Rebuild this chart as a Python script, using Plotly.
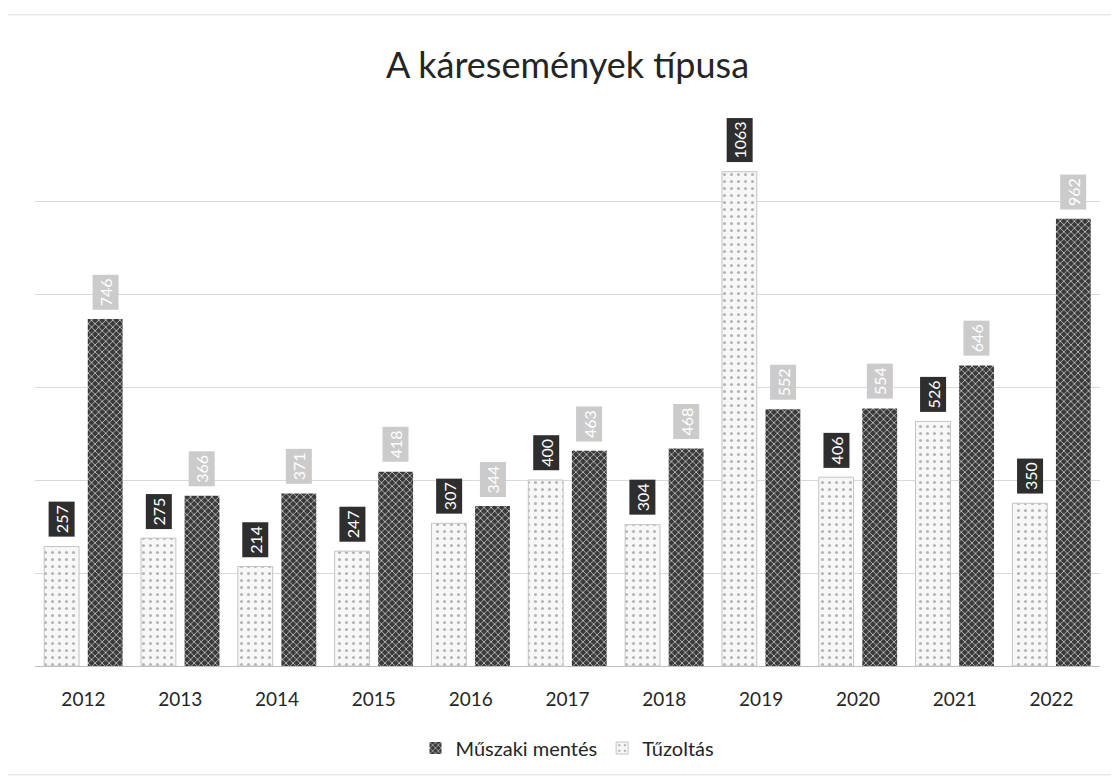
import plotly.graph_objects as go

years = ["2012", "2013", "2014", "2015", "2016", "2017", "2018", "2019", "2020", "2021", "2022"]
tuzoltas = [257, 275, 214, 247, 307, 400, 304, 1063, 406, 526, 350]
muszaki = [746, 366, 371, 418, 344, 463, 468, 552, 554, 646, 962]

title_text = "A káresemények típusa"
FONT = "Lato, 'Open Sans', sans-serif"

W, H = 1119, 781
ML, MR, MT, MB = 27, 27, 100, 123
BARGAP, GROUPGAP = 0.10, 0.20

idx = list(range(len(years)))
cat_px = (W - ML - MR) / len(years)
slot_px = (1 - BARGAP) * cat_px / 2
shift = slot_px / 2

fig = go.Figure()
fig.add_trace(go.Bar(
    x=idx, y=tuzoltas, name="Tűzoltás",
    marker=dict(color="#f6f6f6",
                line=dict(color="#c4c4c4", width=1),
                pattern=dict(shape=".", fgcolor="#b4b4b4", bgcolor="#f7f7f7",
                             size=7, solidity=0.15, fillmode="replace")),
))
fig.add_trace(go.Bar(
    x=idx, y=muszaki, name="Műszaki mentés",
    marker=dict(color="#3c3c3c",
                line=dict(color="#3c3c3c", width=0),
                pattern=dict(shape="x", fgcolor="#e6e6e6", bgcolor="#3a3a3a",
                             size=5, solidity=0.25, fillmode="replace")),
))

annotations = []
for i, v in zip(idx, tuzoltas):
    annotations.append(dict(
        x=i, y=v, xref="x", yref="y", text=str(v), showarrow=False,
        textangle=-90, xshift=-shift, yshift=9, yanchor="bottom", xanchor="center",
        bgcolor="#2e2e2e", font=dict(color="white", size=16, family=FONT),
        borderpad=3,
    ))
for i, v in zip(idx, muszaki):
    annotations.append(dict(
        x=i, y=v, xref="x", yref="y", text=str(v), showarrow=False,
        textangle=-90, xshift=shift, yshift=9, yanchor="bottom", xanchor="center",
        bgcolor="#cbcbcb", font=dict(color="white", size=16, family=FONT),
        borderpad=3,
    ))

fig.update_layout(
    width=W, height=H,
    paper_bgcolor="white", plot_bgcolor="white",
    title=dict(text=title_text, x=0.5, xanchor="center", y=0.927, yanchor="middle",
               font=dict(size=36, color="#252525", family=FONT)),
    barmode="group", bargap=BARGAP, bargroupgap=GROUPGAP,
    margin=dict(l=ML, r=MR, t=MT, b=MB),
    showlegend=True,
    legend=dict(orientation="h", x=0.5, xanchor="center", y=-0.147, yanchor="middle",
                traceorder="reversed", font=dict(size=20, color="#252525", family=FONT)),
    annotations=annotations,
    shapes=[dict(type="rect", xref="paper", yref="paper",
                 x0=-0.028, x1=1.012, y0=-0.195, y1=1.167,
                 line=dict(color="#dcdcdc", width=1), fillcolor="rgba(0,0,0,0)",
                 layer="below")],
)
fig.update_xaxes(range=[-0.5, len(years) - 0.5], tickmode="array", tickvals=idx, ticktext=years,
                 tickfont=dict(size=19, color="#252525", family=FONT),
                 ticklabelstandoff=16,
                 showline=True, linecolor="#bfbfbf", linewidth=1, ticks="", showgrid=False,
                 zeroline=False)
fig.update_yaxes(range=[0, 1200], dtick=200, showticklabels=False,
                 showgrid=True, gridcolor="#d9d9d9", gridwidth=1, zeroline=False)

fig.write_html("out.html")
